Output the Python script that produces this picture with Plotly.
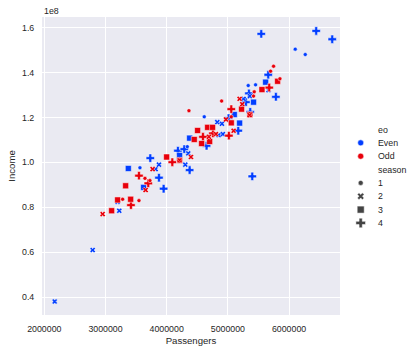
import plotly.graph_objects as go

# ---------------- data ----------------
passengers = [
    # Even, season 4
    5546000, 6444000, 6706000, 5660000, 5785000, 5344000, 5366000, 5012000, 5170000,
    4652000, 4184000, 4288000, 3732000, 4375000, 3874000, 3950000, 5399000, 5295000,
    # Even, season 3
    5617000, 5420000, 5105000, 5192000, 4375000, 4211000, 3373000, 3623000,
    # Even, season 1
    6101000, 6265000, 5333000, 5453000, 4614000, 3563000, 4337000,
    # Even, season 2
    2790000, 2169000, 3225000, 3198000, 3819000, 3874000, 4304000, 4353000, 4827000,
    4903000, 4849000, 4919000, 5257000, 5360000, 5665000,
    # Odd, season 4
    5676000, 5056000, 4593000, 4756000, 5017000, 4092000, 3547000, 3699000, 3416000,
    # Odd, season 3
    5813000, 5557000, 5224000, 5360000, 4505000, 4669000, 4750000, 4451000, 4571000,
    4702000, 5056000, 3999000, 4211000, 3329000, 3198000, 3411000, 3100000,
    # Odd, season 1
    5747000, 5698000, 5851000, 4898000, 4364000, 5420000, 5431000, 5056000, 3645000,
    3547000, 3280000, 3726000,
    # Odd, season 2
    2953000, 3770000, 3656000, 4397000, 4968000, 4805000, 4690000, 5094000, 5355000,
    5192000, 5235000, 4211000,
]
income = [
    157200000, 158500000, 154800000, 139000000, 129200000, 130700000, 122500000, 119700000, 114100000,
    107400000, 105200000, 105900000, 101900000, 96600000, 93200000, 88300000, 93800000, 126800000,
    135700000, 126800000, 121300000, 117500000, 110800000, 103100000, 97300000, 88900000,
    150400000, 148000000, 134200000, 134500000, 120300000, 97600000, 107000000,
    61000000, 38100000, 78500000, 82400000, 97000000, 99000000, 99000000, 104000000, 117900000,
    117200000, 112100000, 112600000, 128300000, 129500000, 132100000,
    133300000, 123700000, 111400000, 112900000, 111900000, 100100000, 94100000, 90700000, 81000000,
    136100000, 132400000, 123700000, 121300000, 114200000, 115600000, 115600000, 110200000, 108400000,
    109300000, 117600000, 102400000, 100900000, 89600000, 83300000, 83600000, 78500000,
    142800000, 140600000, 137200000, 127300000, 123000000, 129500000, 131400000, 120300000, 92900000,
    83000000, 83600000, 91900000,
    77000000, 97000000, 87700000, 102400000, 119100000, 112600000, 111400000, 114100000, 121000000,
    128300000, 125900000, 100900000,
]
eo = (["Even"] * 18 + ["Even"] * 8 + ["Even"] * 7 + ["Even"] * 15
      + ["Odd"] * 9 + ["Odd"] * 17 + ["Odd"] * 12 + ["Odd"] * 12)
season = ([4] * 18 + [3] * 8 + [1] * 7 + [2] * 15
          + [4] * 9 + [3] * 17 + [1] * 12 + [2] * 12)

eo_levels = ["Even", "Odd"]
season_levels = [1, 2, 3, 4]
x_ticks = [2000000, 3000000, 4000000, 5000000, 6000000]
y_ticks = [40000000, 60000000, 80000000, 100000000, 120000000, 140000000, 160000000]
y_ticktext = ["0.4", "0.6", "0.8", "1.0", "1.2", "1.4", "1.6"]

# ---------------- styles ----------------
eo_colors = {"Even": "#023EFF", "Odd": "#E8000B"}
season_symbols = {1: "circle", 2: "x", 3: "square", 4: "cross"}
season_sizes = {1: 4, 2: 5, 3: 6, 4: 7}
FONT = "Arial, Liberation Sans, sans-serif"
TXT = "#262626"

W, H = 412, 353
L, T, B = 42, 17, 38
plot_right = 340
dom_end = (plot_right - L) / (W - L)

fig = go.Figure()

for e in eo_levels:
    for s in [4, 3, 1, 2]:
        xs = [p for p, ee, ss in zip(passengers, eo, season) if ee == e and ss == s]
        ys = [v for v, ee, ss in zip(income, eo, season) if ee == e and ss == s]
        fig.add_trace(go.Scatter(
            x=xs, y=ys, mode="markers", showlegend=False,
            marker=dict(color=eo_colors[e], symbol=season_symbols[s], size=season_sizes[s],
                        line=dict(color="white", width=0.5)),
            xaxis="x", yaxis="y",
        ))

# ---------------- hand-made legend in an auxiliary pixel-space subplot ----------------
leg_x_marker = 360.7
leg_x_text = 376
row_h = 13.35
top_row = 129.5
rows = [("title", "eo")] + [("eo", e) for e in eo_levels] + [("title", "season")] + \
       [("season", s) for s in season_levels]
annotations = []
for i, (kind, label) in enumerate(rows):
    y = top_row + i * row_h
    if kind == "eo":
        fig.add_trace(go.Scatter(x=[leg_x_marker], y=[y], mode="markers", showlegend=False,
                                 hoverinfo="skip", xaxis="x2", yaxis="y2",
                                 marker=dict(color=eo_colors[label], symbol="circle", size=6,
                                             line=dict(color="white", width=0.5))))
    elif kind == "season":
        fig.add_trace(go.Scatter(x=[leg_x_marker], y=[y], mode="markers", showlegend=False,
                                 hoverinfo="skip", xaxis="x2", yaxis="y2",
                                 marker=dict(color="#444444", symbol=season_symbols[label],
                                             size=season_sizes[label] + 1,
                                             line=dict(color="white", width=0.5))))
    annotations.append(dict(x=leg_x_text, y=y, xref="x2", yref="y2", text=str(label),
                            showarrow=False, xanchor="left", yanchor="middle",
                            font=dict(family=FONT, size=8.8, color=TXT)))

# axis offset label "1e8" above the top-left corner of the plot
annotations.append(dict(x=0, y=(H - B - 11) / (H - B - T), xref="paper", yref="paper",
                        text="1e8", showarrow=False, xanchor="left", yanchor="middle",
                        font=dict(family=FONT, size=8.8, color=TXT)))

fig.update_layout(
    width=W, height=H,
    margin=dict(l=L, r=0, t=T, b=B),
    paper_bgcolor="white", plot_bgcolor="white",
    font=dict(family=FONT, color=TXT),
    xaxis=dict(domain=[0, dom_end], range=[1962000, 6833000], tickvals=x_ticks,
               ticktext=[str(v) for v in x_ticks], showgrid=True, gridcolor="white",
               gridwidth=1, zeroline=False, showline=False, ticks="outside", ticklen=5,
               tickcolor="rgba(0,0,0,0)", tickfont=dict(size=8.8, color=TXT),
               title=dict(text="Passengers", font=dict(size=9.6, color=TXT), standoff=4),
               anchor="y"),
    yaxis=dict(domain=[0, 1], range=[32100000, 164700000], tickvals=y_ticks,
               ticktext=y_ticktext, showgrid=True, gridcolor="white", gridwidth=1,
               zeroline=False, showline=False, ticks="outside", ticklen=5,
               tickcolor="rgba(0,0,0,0)", tickfont=dict(size=8.8, color=TXT),
               title=dict(text="Income", font=dict(size=9.6, color=TXT), standoff=4),
               anchor="x"),
    xaxis2=dict(domain=[dom_end, 1], range=[plot_right, W], visible=False, anchor="y2",
                fixedrange=True),
    yaxis2=dict(domain=[0, 1], range=[H - B, T], visible=False, anchor="x2",
                fixedrange=True),
    shapes=[dict(type="rect", xref="x domain", yref="y domain", x0=0, x1=1, y0=0, y1=1,
                 fillcolor="#EAEAF2", line=dict(width=0), layer="below")],
    annotations=annotations,
)

fig.write_html("out.html")
